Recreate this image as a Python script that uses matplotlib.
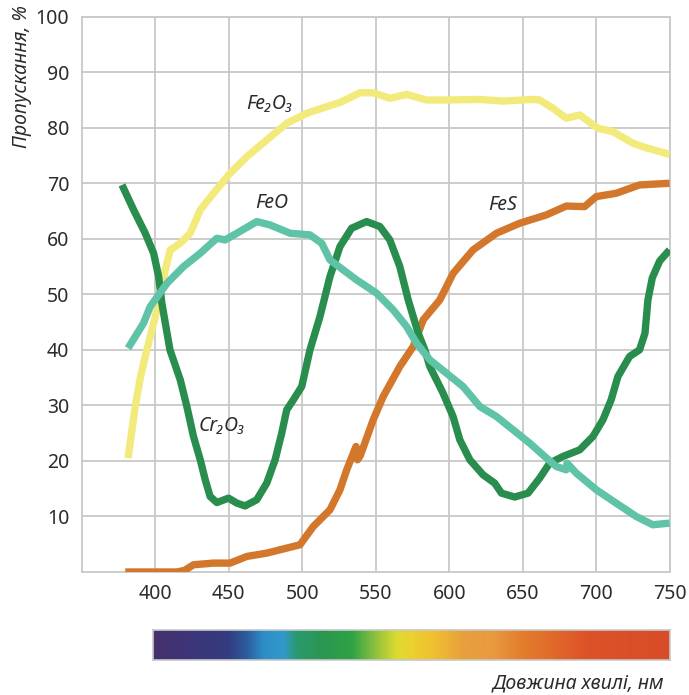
import matplotlib.pyplot as plt
import numpy as np
from matplotlib.colors import LinearSegmentedColormap

# wavelength (nm) / transmission (%)
fe2o3_x = [381.5, 386.4, 390, 394.3, 402.3, 406.8, 410.2, 417, 423.8, 430.6, 439.6, 450.9,
           462.3, 475.8, 489.4, 503, 516.6, 526, 539.2, 548.2, 559.5, 570.9, 584.5, 600.3,
           620.7, 636.5, 656.9, 661.4, 670.4, 679.5, 688.6, 701, 711.2, 724.8, 733.8, 749.7]
fe2o3_y = [20.5, 29.8, 35.2, 40, 48.4, 54.4, 58, 59.2, 61, 65.2, 68.2, 71.8,
           74.8, 77.8, 80.8, 82.6, 83.8, 84.6, 86.3, 86.3, 85.3, 86.0, 85, 85,
           85.1, 84.8, 85.1, 85, 83.5, 81.7, 82.3, 79.9, 79.3, 77.2, 76.4, 75.2]

feo_x = [381.5, 392, 396.6, 408, 419.2, 430.6, 441.9, 447.5, 455.5, 469, 478, 491.7, 505.2,
         513.2, 518.8, 527.8, 536.9, 550.5, 561.8, 570.9, 577.7, 586.7, 598, 609.3, 620.7,
         632, 643.3, 654.6, 664.8, 672.7, 679.5, 680, 686.3, 699.9, 713.4, 727, 738.3,
         749.7]
feo_y = [40.3, 44.8, 47.8, 52, 55, 57.4, 60.1, 59.8, 61, 63.1, 62.5, 61, 60.7,
         59.2, 56.2, 54.4, 52.6, 50.2, 47.2, 44.2, 41.2, 38.2, 35.8, 33.4, 29.8,
         28, 25.6, 23.2, 20.8, 19, 18.4, 19.6, 17.8, 14.8, 12.4, 10, 8.5,
         8.8]

cr2o3_x = [377.4, 385.3, 393.2, 398.9, 402.3, 404.5, 410, 417, 421.5, 426, 430.6, 434,
           437.3, 441.9, 449.8, 455.5, 461.1, 469, 475.8, 481.5, 486, 489.4, 493.9,
           499.6, 505.2, 512, 518.8, 525.6, 533.5, 543.7, 552.8, 559.5, 566.3, 572,
           578.8, 583.3, 586.7, 595.7, 602.5, 607.1, 613.9, 622.9, 630.8, 635.4, 644.4,
           653.5, 661.4, 668.2, 677.2, 688.6, 697.6, 704.4, 710, 714.6, 722.5, 729.3,
           733, 735, 738, 743, 749.7]
cr2o3_y = [69.7, 65.2, 61, 57.4, 53.2, 48.4, 40, 34.6, 29.8, 24.4, 20.2, 16.6,
           13.6, 12.5, 13.3, 12.4, 11.9, 13, 16, 20.2, 25, 29.2, 31,
           33.4, 40, 46, 53.2, 58.6, 61.9, 63.1, 62.2, 59.8, 55, 49,
           43, 40, 37, 32.2, 28, 23.8, 20.2, 17.5, 16, 14.2, 13.5,
           14.2, 16.9, 19.6, 20.8, 22, 24.4, 27.4, 31, 35.2, 38.8, 40,
           43, 49, 53, 56, 58]

fes_x = [379.6, 414.7, 420, 426, 439.6, 450.9, 462.3, 475.8, 489.4, 498.4, 507.5, 518.8,
         525.6, 530.2, 536.5, 537.5, 539.5, 548.2, 555, 566.3, 575.4, 582.2, 593.5,
         602.6, 616.1, 632, 647.8, 665.9, 679.5, 691.9, 699.9, 713.4, 729.3, 749.7]
fes_y = [0, 0, 0.3, 1.3, 1.6, 1.6, 2.8, 3.4, 4.3, 4.9, 8.2, 11.2,
         14.8, 18.4, 22.6, 20.2, 21.0, 27.4, 31.6, 37, 40.6, 45.4, 49,
         53.8, 58, 61, 62.8, 64.3, 65.9, 65.8, 67.6, 68.2, 69.7, 70]

x_ticks = [400, 450, 500, 550, 600, 650, 700, 750]
y_ticks = [10, 20, 30, 40, 50, 60, 70, 80, 90, 100]

spectrum_nm = [400, 428, 450, 462, 475, 488, 497, 515, 535, 550, 565, 575, 590,
               610, 630, 650, 670, 695, 750]
spectrum_colors = ["#47306e", "#3b367a", "#343c80", "#2b5a9a", "#2e8ec8", "#3399cc",
                   "#2a9a70", "#2a9650", "#2fa345", "#8cc040", "#dcdc30", "#ecd030",
                   "#f0c030", "#e8a03c", "#e89a40", "#e47e2c", "#e26a2a", "#dc5228",
                   "#d84c28"]

GRID = "#c8c8c8"
TEXT = "#2b2b2b"
FONT = ["Noto Sans", "DejaVu Sans"]

plt.rcParams["font.family"] = FONT

fig = plt.figure(figsize=(6.89, 6.95), dpi=100)
ax = fig.add_axes([0.1186, 0.177, 0.8538, 0.799])

lw = 5.3
style = dict(lw=lw, solid_capstyle="butt", solid_joinstyle="round")
ax.plot(fe2o3_x, fe2o3_y, color="#f3ea7c", zorder=3, **style)
ax.plot(fes_x, fes_y, color="#d2772c", zorder=3, **style)
ax.plot(cr2o3_x, cr2o3_y, color="#288d4d", zorder=4, **style)
ax.plot(feo_x, feo_y, color="#5fc3a7", zorder=5, **style)

lab = dict(fontsize=14, style="italic", color=TEXT, ha="center", va="center")
ax.text(478, 84.3, "Fe₂O₃", **lab)
ax.text(479, 66.4, "FeO", **lab)
ax.text(445.3, 26.2, "Cr₂O₃", **lab)
ax.text(636.5, 66.1, "FeS", **lab)

ax.set_xlim(350, 750)
ax.set_ylim(0, 100)
ax.set_xticks(x_ticks)
ax.set_yticks(y_ticks)
ax.tick_params(length=0, labelsize=14, labelcolor=TEXT)
ax.tick_params(axis="x", pad=9)
ax.tick_params(axis="y", pad=9)
ax.grid(True, color=GRID, lw=1.3)
ax.set_axisbelow(True)
for sp in ax.spines.values():
    sp.set_color(GRID)
    sp.set_linewidth(1.3)

ax.set_ylabel("Пропускання, %", fontsize=14, style="italic", color=TEXT, loc="top")
ax.yaxis.set_label_coords(-0.085, 1.02)

# spectrum strip under the chart
cax = fig.add_axes([153 / 689, 35 / 695, 517 / 689, 30 / 695])
pos = [(n - 400) / 350 for n in spectrum_nm]
cmap = LinearSegmentedColormap.from_list("spec", list(zip(pos, spectrum_colors)))
cax.imshow(np.linspace(0, 1, 512)[None, :], aspect="auto", cmap=cmap,
           extent=[400, 750, 0, 1])
cax.set_xticks([])
cax.set_yticks([])
for sp in cax.spines.values():
    sp.set_color(GRID)
    sp.set_linewidth(1.2)

fig.text(664 / 689, 1 - 683 / 695, "Довжина хвилі, нм", fontsize=14, style="italic",
         color=TEXT, ha="right", va="center")

fig.savefig("out.png", dpi=100)
